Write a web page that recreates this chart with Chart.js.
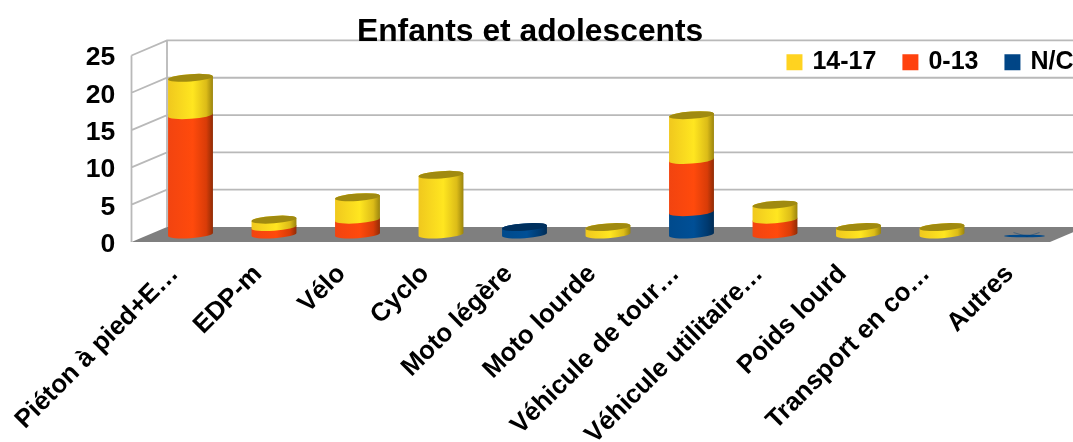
<!DOCTYPE html>
<html lang="fr">
<head>
<meta charset="utf-8">
<title>Enfants et adolescents</title>
<style>html,body{margin:0;padding:0;background:#fff}canvas{display:block}</style>
<script src="https://cdn.jsdelivr.net/npm/chart.js@4/dist/chart.umd.min.js"></script>
</head>
<body>
<canvas id="c" width="1073" height="442"></canvas>
<script>
const categories = ["Piéton à pied+E…","EDP-m","Vélo","Cyclo","Moto légère","Moto lourde","Véhicule de tour…","Véhicule utilitaire…","Poids lourd","Transport en co…","Autres"];
const valuesNC   = [0,0,0,0,1,0,3,0,0,0,0];
const values013  = [16,1,2,0,0,0,7,2,0,0,0];
const values1417 = [5,1,3,8,0,1,6,2,1,1,0];
const yTicks = [0,5,10,15,20,25];

const FONT = "Liberation Sans";
const DEPTH_X = 35.5, DEPTH_Y = -15;
const TILT = -4 * Math.PI / 180, RY = 3.7;
const shades = {
  "N/C":   {stops:["#004a8c","#004f96","#003a70","#002c55"], cap:"#00305e"},
  "0-13":  {stops:["#f24410","#ff4a0c","#d93c08","#8f2c06"], cap:"#a03008"},
  "14-17": {stops:["#f0c81e","#ffe620","#dcbc18","#9a840e"], cap:"#a08a10"}
};

const scene3d = {
  id: "scene3d",
  beforeDraw(chart) {
    const {ctx, chartArea: a, scales: {y}} = chart;
    const x0 = a.left - 17.25, y0 = y.getPixelForValue(0);
    const xEnd = x0 + 918.5;
    ctx.save();
    ctx.fillStyle = "#7f7f7f";
    ctx.beginPath();
    ctx.moveTo(x0, y0);
    ctx.lineTo(x0 + DEPTH_X, y0 + DEPTH_Y);
    ctx.lineTo(xEnd + DEPTH_X, y0 + DEPTH_Y);
    ctx.lineTo(xEnd, y0);
    ctx.closePath();
    ctx.fill();
    ctx.strokeStyle = "#b9b9b9";
    ctx.lineWidth = 1.8;
    ctx.beginPath();
    const top = y.getPixelForValue(yTicks[yTicks.length - 1]);
    ctx.moveTo(x0, y0); ctx.lineTo(x0, top);
    ctx.moveTo(x0 + DEPTH_X, y0 + DEPTH_Y); ctx.lineTo(x0 + DEPTH_X, top + DEPTH_Y);
    for (const t of yTicks) {
      const py = y.getPixelForValue(t);
      if (t === 0) continue;
      ctx.moveTo(x0, py);
      ctx.lineTo(x0 + DEPTH_X, py + DEPTH_Y);
      ctx.lineTo(xEnd + DEPTH_X, py + DEPTH_Y);
    }
    ctx.stroke();
    ctx.restore();
  },
  beforeDatasetDraw() { return false; },
  beforeDatasetsDraw(chart) {
    const ctx = chart.ctx;
    const n = chart.data.labels.length;
    for (let i = 0; i < n; i++) {
      let last = null;
      chart.data.datasets.forEach((ds, d) => {
        if (!ds.data[i]) return;
        const el = chart.getDatasetMeta(d).data[i];
        const rx = el.width / 2;
        const g = ctx.createLinearGradient(el.x - rx, 0, el.x + rx, 0);
        const s = shades[ds.label].stops;
        g.addColorStop(0, s[0]); g.addColorStop(0.55, s[1]); g.addColorStop(0.85, s[2]); g.addColorStop(1, s[3]);
        ctx.fillStyle = g;
        ctx.beginPath();
        ctx.ellipse(el.x, el.base, rx, RY, TILT, 0, Math.PI);
        ctx.ellipse(el.x, el.y, rx, RY, TILT, Math.PI, 2 * Math.PI);
        ctx.closePath();
        ctx.fill();
        last = {el, rx, label: ds.label};
      });
      if (last) {
        ctx.fillStyle = shades[last.label].cap;
        ctx.beginPath();
        ctx.ellipse(last.el.x, last.el.y, last.rx, RY, TILT, 0, 2 * Math.PI);
        ctx.fill();
      } else {
        const el = chart.getDatasetMeta(0).data[i];
        const rx = el.width / 2;
        ctx.save();
        ctx.fillStyle = shades["N/C"].stops[0];
        ctx.beginPath();
        ctx.ellipse(el.x - 1, el.y + 1.5, rx - 2, 1.3, 0, 0, 2 * Math.PI);
        ctx.fill();
        ctx.strokeStyle = "rgba(0,60,115,0.55)";
        ctx.lineWidth = 0.8;
        ctx.beginPath();
        ctx.moveTo(el.x - 12, el.y - 2); ctx.lineTo(el.x + 2, el.y + 2);
        ctx.moveTo(el.x + 14, el.y - 2); ctx.lineTo(el.x + 1, el.y + 2);
        ctx.stroke();
        ctx.restore();
      }
    }
  },
  afterLayout(chart) {
    const t = chart.titleBlock;
    t.left -= 3.5; t.right -= 3.5;
    const l = chart.legend;
    l.top = 49.8 - 28.5; l.bottom = l.top + 60;
    l.left = 700; l.right = 1102;
  }
};

const flatFit = h => scale => {
  if (h) scale.height = h;
  scale.paddingLeft = scale.paddingRight = scale.paddingTop = scale.paddingBottom = 0;
};

new Chart(document.getElementById("c"), {
  type: "bar",
  data: {
    labels: categories,
    datasets: [
      {label:"N/C",   data:valuesNC,   backgroundColor:"#004586", borderColor:"#004586", borderWidth:5, yAxisID:"yBars"},
      {label:"0-13",  data:values013,  backgroundColor:"#ff420e", borderColor:"#ff420e", borderWidth:5, yAxisID:"yBars"},
      {label:"14-17", data:values1417, backgroundColor:"#ffd320", borderColor:"#ffd320", borderWidth:5, yAxisID:"yBars"}
    ]
  },
  options: {
    responsive: false,
    animation: false,
    barPercentage: 45 / 83.5,
    categoryPercentage: 1,
    layout: {padding: {left: 0, right: 5.75, top: 0, bottom: 0}},
    plugins: {
      title: {display:true, text:"Enfants et adolescents", color:"#000", font:{family:FONT, size:31.8, weight:"bold"}, padding:{top:13, bottom:3.3}},
      legend: {
        position:"top", align:"end", reverse:true, maxHeight:1,
        labels:{boxWidth:11, boxHeight:11, padding:28.5, color:"#000", font:{family:FONT, size:25, weight:"bold"}}
      },
      tooltip:{enabled:false}
    },
    scales: {
      x: {
        stacked:true,
        grid:{display:false}, border:{display:false},
        afterFit: flatFit(200),
        ticks:{autoSkip:false, minRotation:45, maxRotation:45, labelOffset:-16, padding:9, color:"#000", font:{family:FONT, size:25.8, weight:"bold"}}
      },
      y: {
        min:0, max:25, position:"left",
        grid:{display:false, drawTicks:false}, border:{display:false},
        afterFit: s => { s.width = 148.75; flatFit()(s); },
        afterBuildTicks: s => { s.ticks = yTicks.map(v => ({value:v})); },
        ticks:{padding:33.5, labelOffset:2.5, color:"#000", font:{family:FONT, size:26.5, weight:"bold"}}
      },
      yBars: {
        display:false, stacked:true, min:-1, max:24
      }
    }
  },
  plugins:[scene3d]
});
</script>
</body>
</html>
